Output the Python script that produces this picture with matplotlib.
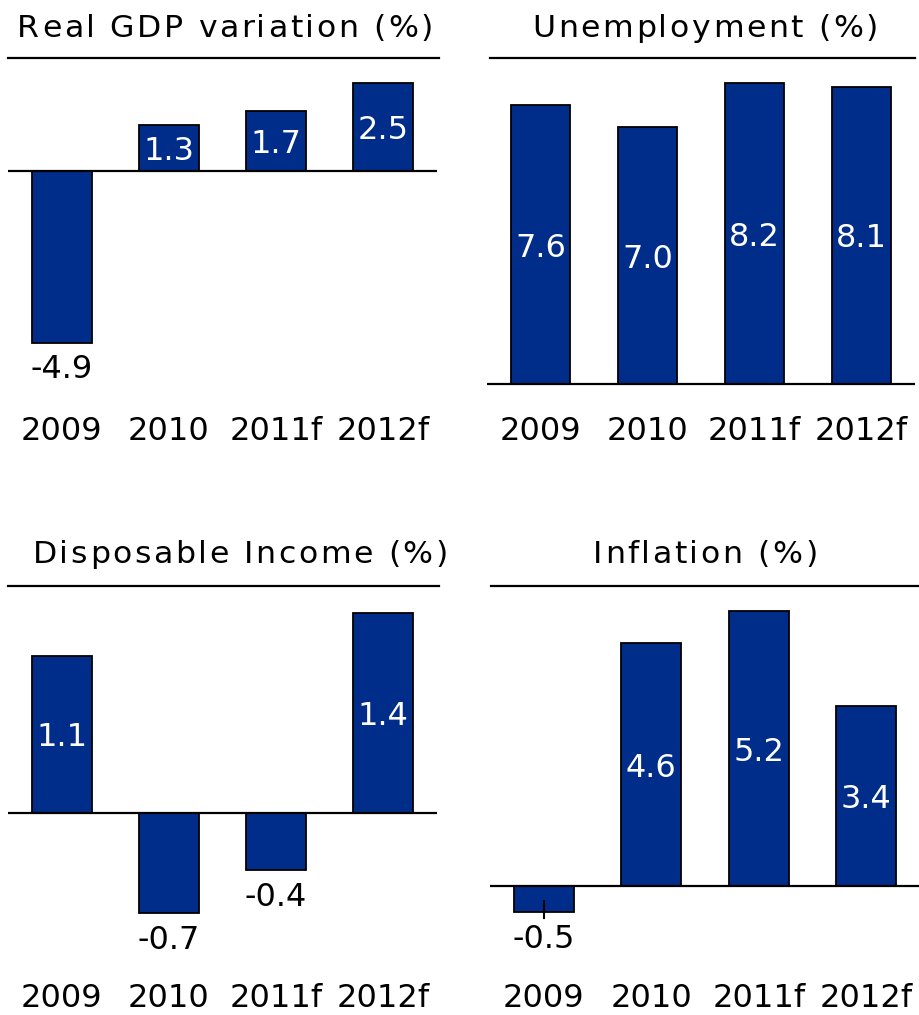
import matplotlib
matplotlib.use("Agg")
import matplotlib.pyplot as plt
from matplotlib import font_manager, ft2font
from matplotlib.lines import Line2D

W, H, DPI = 920, 1015, 100
BAR = "#002C8A"
FONT = "DejaVu Sans"

categories = ["2009", "2010", "2011f", "2012f"]
gdp = [-4.9, 1.3, 1.7, 2.5]
unemployment = [7.6, 7.0, 8.2, 8.1]
disposable_income = [1.1, -0.7, -0.4, 1.4]
inflation = [-0.5, 4.6, 5.2, 3.4]

titles = ["Real GDP variation (%)", "Unemployment (%)",
          "Disposable Income (%)", "Inflation (%)"]

# panel geometry in pixels: left, right, top, bottom, zero line, px per unit
panels = [
    dict(vals=gdp, box=(8, 437, 70, 410), zero=171, scale=35.0,
         tcx=225, tbase=37, line=(8, 439, 58), lab_top=417),
    dict(vals=unemployment, box=(487, 915, 70, 410), zero=384, scale=36.7,
         tcx=705, tbase=37, line=(490, 915, 58), lab_top=417),
    dict(vals=disposable_income, box=(8, 437, 600, 975), zero=813, scale=143.0,
         tcx=240, tbase=563, line=(8, 439, 586), lab_top=984),
    dict(vals=inflation, box=(490, 920, 600, 975), zero=886, scale=52.8,
         tcx=705, tbase=563, line=(491, 920, 586), lab_top=984),
]

TITLE_PX = 31.5
TRACK_PX = 2.6
LABEL_PT = 23


def fx(x): return x / W
def fy(y): return 1 - y / H


def spaced_title(fig, s, cx, base):
    # letter-spaced title, one glyph at a time
    size_pt = TITLE_PX * 72 / DPI
    font = ft2font.FT2Font(font_manager.findfont(FONT))
    font.set_size(size_pt, DPI)
    adv = [font.load_char(ord(c)).linearHoriAdvance / 65536 for c in s]
    total = sum(adv) + TRACK_PX * (len(s) - 1)
    x = cx - total / 2
    for c, a in zip(s, adv):
        fig.text(fx(x), fy(base), c, fontsize=size_pt,
                 family=FONT, ha="left", va="baseline")
        x += a + TRACK_PX


fig = plt.figure(figsize=(W / DPI, H / DPI), dpi=DPI)
x = list(range(len(categories)))

for p, title in zip(panels, titles):
    l, r, t, b = p["box"]
    ax = fig.add_axes([fx(l), fy(b), (r - l) / W, (b - t) / H])
    vals = p["vals"]
    ax.bar(x, vals, width=0.56, color=BAR, edgecolor="black", lw=1.3, zorder=2)
    ax.axhline(0, color="black", lw=1.6, zorder=3)
    ax.set_xlim(-0.5, 3.5)
    ax.set_ylim(-(b - p["zero"]) / p["scale"], (p["zero"] - t) / p["scale"])
    ax.set_yticks([])
    ax.set_xticks(x, categories)
    ax.tick_params(axis="x", length=0, labelsize=LABEL_PT,
                   pad=(p["lab_top"] - b - 1) * 72 / DPI)
    for s in ax.spines.values():
        s.set_visible(False)
    for i, v in enumerate(vals):
        if v >= 0:
            ax.text(i, v / 2, f"{v:.1f}", color="white", fontsize=LABEL_PT,
                    ha="center", va="center_baseline", zorder=4)
        else:
            ax.annotate(f"{v:.1f}", xy=(i, v), xytext=(0, -27 * 72 / DPI),
                        textcoords="offset points", fontsize=LABEL_PT,
                        ha="center", va="center", annotation_clip=False)
    if vals is inflation:
        # small tick on the negative 2009 bar
        ax.plot([0, 0], [vals[0] * 0.57, vals[0] * 1.22], color="black",
                lw=1.5, zorder=4)

    x0, x1, ly = p["line"]
    fig.add_artist(Line2D([fx(x0), fx(x1)], [fy(ly), fy(ly)],
                          color="black", lw=1.6))
    spaced_title(fig, title, p["tcx"], p["tbase"])

fig.savefig("out.png", dpi=DPI)
